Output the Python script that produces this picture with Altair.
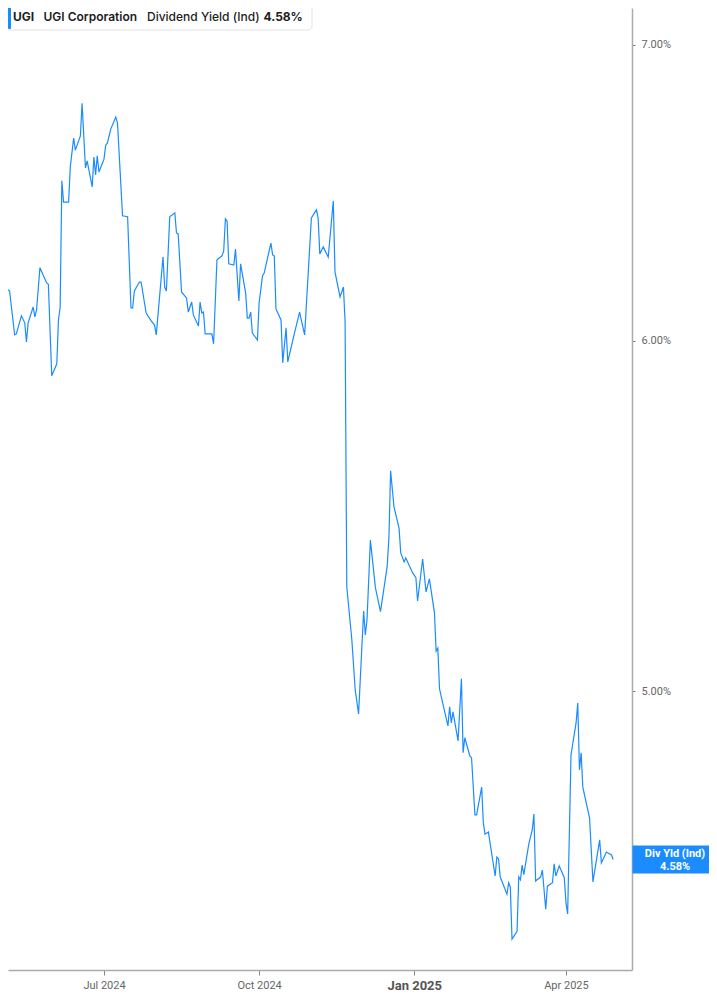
import altair as alt
import pandas as pd

# ---------------- data ----------------
dates = [
    "2024-04-30", "2024-05-01", "2024-05-02", "2024-05-03", "2024-05-06", "2024-05-09", "2024-05-10", "2024-05-13",
    "2024-05-15", "2024-05-16", "2024-05-17", "2024-05-20", "2024-05-21", "2024-05-22", "2024-05-24", "2024-05-28",
    "2024-05-29", "2024-05-31",
    "2024-06-03", "2024-06-04", "2024-06-05", "2024-06-06", "2024-06-07", "2024-06-10", "2024-06-11", "2024-06-13",
    "2024-06-14", "2024-06-17", "2024-06-18", "2024-06-20", "2024-06-21", "2024-06-24", "2024-06-25", "2024-06-26",
    "2024-06-27", "2024-06-28",
    "2024-07-01", "2024-07-02", "2024-07-03", "2024-07-05", "2024-07-08", "2024-07-09", "2024-07-12", "2024-07-15",
    "2024-07-17", "2024-07-18", "2024-07-19", "2024-07-22", "2024-07-23", "2024-07-26", "2024-07-29", "2024-07-31",
    "2024-08-01", "2024-08-05", "2024-08-06", "2024-08-07", "2024-08-09", "2024-08-12", "2024-08-13", "2024-08-14",
    "2024-08-16", "2024-08-19", "2024-08-20", "2024-08-22", "2024-08-23", "2024-08-26", "2024-08-27", "2024-08-28",
    "2024-08-29", "2024-08-30",
    "2024-09-03", "2024-09-04", "2024-09-06", "2024-09-09", "2024-09-10", "2024-09-11", "2024-09-12", "2024-09-13",
    "2024-09-16", "2024-09-17", "2024-09-19", "2024-09-20", "2024-09-23", "2024-09-24", "2024-09-25", "2024-09-26",
    "2024-09-27", "2024-09-30",
    "2024-10-01", "2024-10-03", "2024-10-04", "2024-10-08", "2024-10-09", "2024-10-10", "2024-10-11", "2024-10-14",
    "2024-10-15", "2024-10-17", "2024-10-18", "2024-10-22", "2024-10-25", "2024-10-28", "2024-10-30",
    "2024-11-01", "2024-11-04", "2024-11-05", "2024-11-06", "2024-11-08", "2024-11-11", "2024-11-14", "2024-11-15",
    "2024-11-18", "2024-11-20", "2024-11-21", "2024-11-22", "2024-11-25", "2024-11-27", "2024-11-29",
    "2024-12-02", "2024-12-03", "2024-12-04", "2024-12-06", "2024-12-09", "2024-12-12", "2024-12-16", "2024-12-17",
    "2024-12-18", "2024-12-20", "2024-12-23", "2024-12-24", "2024-12-26", "2024-12-27", "2024-12-31",
    "2025-01-02", "2025-01-03", "2025-01-06", "2025-01-08", "2025-01-10", "2025-01-13", "2025-01-14", "2025-01-15",
    "2025-01-16", "2025-01-18", "2025-01-21", "2025-01-22", "2025-01-23", "2025-01-24", "2025-01-27", "2025-01-29",
    "2025-01-30", "2025-01-31",
    "2025-02-03", "2025-02-04", "2025-02-06", "2025-02-07", "2025-02-10", "2025-02-11", "2025-02-12", "2025-02-14",
    "2025-02-18", "2025-02-19", "2025-02-20", "2025-02-21", "2025-02-25", "2025-02-26", "2025-02-27", "2025-02-28",
    "2025-03-03", "2025-03-04", "2025-03-05", "2025-03-06", "2025-03-07", "2025-03-10", "2025-03-12", "2025-03-13",
    "2025-03-14", "2025-03-17", "2025-03-18", "2025-03-20", "2025-03-21", "2025-03-24", "2025-03-25", "2025-03-26",
    "2025-03-28", "2025-03-31",
    "2025-04-01", "2025-04-02", "2025-04-04", "2025-04-07", "2025-04-08", "2025-04-09", "2025-04-10", "2025-04-11",
    "2025-04-15", "2025-04-17", "2025-04-21", "2025-04-22", "2025-04-25", "2025-04-28", "2025-04-29",
]

yields = [
    5.870, 5.794, 6.187, 6.171, 6.158, 6.019, 6.022, 6.079, 6.057, 5.997, 6.057, 6.107, 6.076, 6.098, 6.233, 6.184,
    6.180, 5.892,
    5.929, 6.066, 6.107, 6.522, 6.450, 6.450, 6.569, 6.669, 6.627, 6.676, 6.791, 6.566, 6.590, 6.501, 6.603, 6.542,
    6.607, 6.552,
    6.596, 6.644, 6.651, 6.700, 6.742, 6.721, 6.404, 6.401, 6.104, 6.104, 6.158, 6.187, 6.187, 6.088, 6.063, 6.050,
    6.019, 6.268, 6.171, 6.158, 6.401, 6.414, 6.347, 6.344, 6.155, 6.135, 6.091, 6.123, 6.082, 6.047, 6.123, 6.088,
    6.091, 6.022,
    6.022, 5.991, 6.259, 6.272, 6.288, 6.394, 6.387, 6.246, 6.242, 6.294, 6.126, 6.246, 6.152, 6.072, 6.072, 6.091,
    6.025, 6.003,
    6.120, 6.207, 6.216, 6.314, 6.275, 6.272, 6.101, 6.066, 5.932, 6.041, 5.935, 6.025, 6.091, 6.019, 6.204,
    6.397, 6.424, 6.397, 6.278, 6.301, 6.268, 6.454, 6.220, 6.139, 6.171, 6.060, 5.279, 5.135, 5.003, 4.941,
    5.213, 5.148, 5.189, 5.409, 5.276, 5.211, 5.337, 5.418, 5.608, 5.503, 5.443, 5.373, 5.348, 5.359, 5.318,
    5.304, 5.240, 5.356, 5.265, 5.301, 5.208, 5.105, 5.113, 5.006, 4.967, 4.910, 4.959, 4.918, 4.946, 4.872, 5.032,
    4.842, 4.880,
    4.834, 4.829, 4.688, 4.688, 4.756, 4.668, 4.641, 4.646, 4.541, 4.586, 4.582, 4.539, 4.498, 4.525, 4.515, 4.394,
    4.412, 4.539, 4.532, 4.567, 4.544, 4.618, 4.651, 4.690, 4.529, 4.539, 4.555, 4.463, 4.517, 4.525, 4.570, 4.541,
    4.565, 4.537,
    4.479, 4.452, 4.837, 4.918, 4.969, 4.799, 4.842, 4.756, 4.680, 4.527, 4.627, 4.572, 4.598, 4.591, 4.580,
]

y_ticks = [5, 6, 7]
x_tick_dates = [(2024, 7, 1), (2024, 10, 1), (2025, 1, 1), (2025, 4, 1)]
ticker = "UGI"
company = "UGI Corporation"
metric = "Dividend Yield (Ind)"
tag_label = "Div Yld (Ind)"
last_value_text = "4.58%"

# ---------------- styling ----------------
BLUE = "#1a8cff"
AXIS_GRAY = "#ababab"
LABEL_GRAY = "#666666"
FONT = "Roboto"

df = pd.DataFrame({"date": dates, "yield": yields})
last_df = pd.DataFrame({"date": [dates[-1]], "yield": [yields[-1]]})
one = pd.DataFrame({"k": [0]})

x_domain = [
    alt.DateTime(year=2024, month=5, date=5, hours=1, minutes=26, utc=True),
    alt.DateTime(year=2025, month=5, date=10, hours=4, minutes=5, utc=True),
]
x_values = [alt.DateTime(year=y, month=m, date=d, utc=True) for (y, m, d) in x_tick_dates]
y_domain = [4.324, 7.136]

is_jan = "utcmonth(datum.value) == 0"
x_enc = alt.X(
    "date:T",
    title=None,
    scale=alt.Scale(type="utc", domain=x_domain),
    axis=alt.Axis(
        values=x_values,
        format="%b %Y",
        grid=False,
        domainColor=AXIS_GRAY,
        domainWidth=1.5,
        tickColor="#888888",
        tickSize=5,
        labelPadding=4,
        labelFont=FONT,
        labelFontSize={"condition": {"test": is_jan, "value": 13}, "value": 11},
        labelFontWeight={"condition": {"test": is_jan, "value": "bold"}, "value": "normal"},
        labelColor={"condition": {"test": is_jan, "value": "#555555"}, "value": LABEL_GRAY},
    ),
)
y_enc = alt.Y(
    "yield:Q",
    title=None,
    scale=alt.Scale(type="log", domain=y_domain, nice=False, zero=False),
    axis=alt.Axis(
        orient="right",
        values=y_ticks,
        labelExpr="format(datum.value, '.2f') + '%'",
        grid=False,
        domainColor=AXIS_GRAY,
        domainWidth=1.5,
        tickColor="#777777",
        tickSize=3,
        labelPadding=6,
        labelFont=FONT,
        labelFontSize=11,
        labelColor=LABEL_GRAY,
    ),
)

line = alt.Chart(df).mark_line(color=BLUE, strokeWidth=1.2, clip=True).encode(x=x_enc, y=y_enc)

# value tag on the right axis
tag_rect = alt.Chart(last_df).mark_rect(color=BLUE, yOffset=-14, y2Offset=14).encode(
    y="yield:Q", y2="yield:Q", x=alt.value(624.5), x2=alt.value(712)
)
tag_t1 = alt.Chart(last_df).mark_text(
    text=tag_label, color="white", font=FONT, fontSize=11, fontWeight="bold", dy=-6, baseline="middle", align="center"
).encode(y="yield:Q", x=alt.value(667))
tag_t2 = alt.Chart(last_df).mark_text(
    text=last_value_text, color="white", font=FONT, fontSize=11, fontWeight="bold", dy=7, baseline="middle", align="center"
).encode(y="yield:Q", x=alt.value(667))

# header legend box
leg_box = alt.Chart(one).mark_rect(fill="white", stroke="#e3e3e3", strokeWidth=1, cornerRadius=4).encode(
    x=alt.value(-5), x2=alt.value(304), y=alt.value(-5), y2=alt.value(22)
)
leg_bar = alt.Chart(one).mark_rect(fill=BLUE, cornerRadius=1).encode(
    x=alt.value(0), x2=alt.value(3), y=alt.value(-3), y2=alt.value(21)
)


def head_text(txt, xpos, weight):
    return alt.Chart(one).mark_text(
        text=txt, font="Inter", fontSize=12, fontWeight=weight, color="#1c1c1c", align="left", baseline="middle"
    ).encode(x=alt.value(xpos), y=alt.value(8.5))


h1 = head_text(ticker, 5, 700)
h2 = head_text(company, 35.5, 600)
h3 = head_text(metric, 139, 500)
h4 = head_text(last_value_text, 255.5, 700)

chart = alt.layer(line, tag_rect, tag_t1, tag_t2, leg_box, leg_bar, h1, h2, h3, h4).properties(
    width=624,
    height=962,
    autosize=alt.AutoSizeParams(type="none"),
    padding={"left": 0, "top": 0, "right": 77, "bottom": 22},
).configure_view(stroke=None)

chart.save("out.html", embed_options={"renderer": "svg", "actions": False})
